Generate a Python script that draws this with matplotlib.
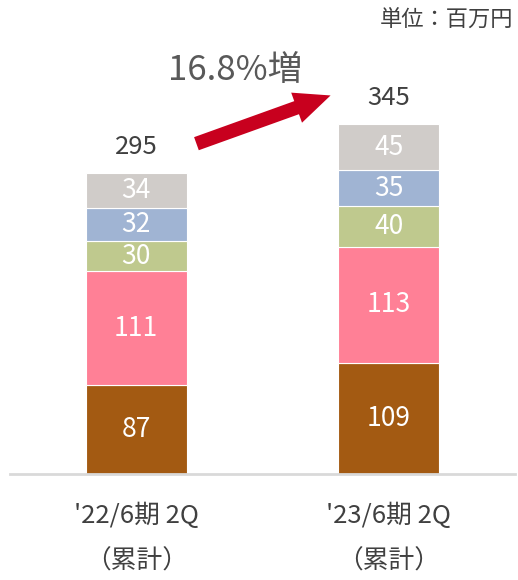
import matplotlib
matplotlib.use("Agg")
import matplotlib.pyplot as plt
from matplotlib.patches import FancyArrowPatch

plt.rcParams['font.family'] = ['Noto Sans CJK JP', 'DejaVu Sans']

categories = ["'22/6期 2Q\n（累計）", "'23/6期 2Q\n（累計）"]
seg1 = [87, 109]
seg2 = [111, 113]
seg3 = [30, 40]
seg4 = [32, 35]
seg5 = [34, 45]
totals = [295, 345]
series = [seg1, seg2, seg3, seg4, seg5]
colors = ['#A35A12', '#FF8096', '#BFC98E', '#A0B4D3', '#D0CCC9']

W, H = 518, 580
fig = plt.figure(figsize=(W/100, H/100), dpi=100)
ax = fig.add_axes([10/W, 106/H, 505/W, 447/H])
ax.set_xlim(-0.5, 1.5)
ax.set_ylim(0, 437)

x = list(range(len(categories)))
bottom = [0]*len(categories)
for vals, c in zip(series, colors):
    ax.bar(x, vals, width=0.4, bottom=bottom, color=c, edgecolor='white', linewidth=0.8)
    for i, v in enumerate(vals):
        ax.text(x[i], bottom[i] + v/2, str(v), ha='center', va='center',
                color='white', fontsize=19)
    bottom = [b + v for b, v in zip(bottom, vals)]

for i, t in enumerate(totals):
    ax.text(x[i], bottom[i] + 13, str(t), ha='center', va='bottom',
            color='#404040', fontsize=18.5)

for s in ['top', 'right', 'left']:
    ax.spines[s].set_visible(False)
ax.spines['bottom'].set_color('#D9D9D9')
ax.spines['bottom'].set_linewidth(2)
ax.set_yticks([])
ax.set_xticks(x)
ax.set_xticklabels(categories, fontsize=18.5, color='#404040', linespacing=1.95)
ax.tick_params(axis='x', length=0, pad=21)

# growth arrow
arrow = FancyArrowPatch((0.228, 322), (0.78, 371),
                        arrowstyle='simple,head_width=2.3,head_length=2.6,tail_width=1.0',
                        mutation_scale=10, color='#C8001E', linewidth=0)
ax.add_patch(arrow)
ax.text(0.39, 394, '16.8%増', ha='center', va='center', fontsize=25, color='#595959')

fig.text(513/W, 1 - 20/H, '単位：百万円', ha='right', va='center', fontsize=16, color='#404040')

fig.savefig('out.png', dpi=100)
